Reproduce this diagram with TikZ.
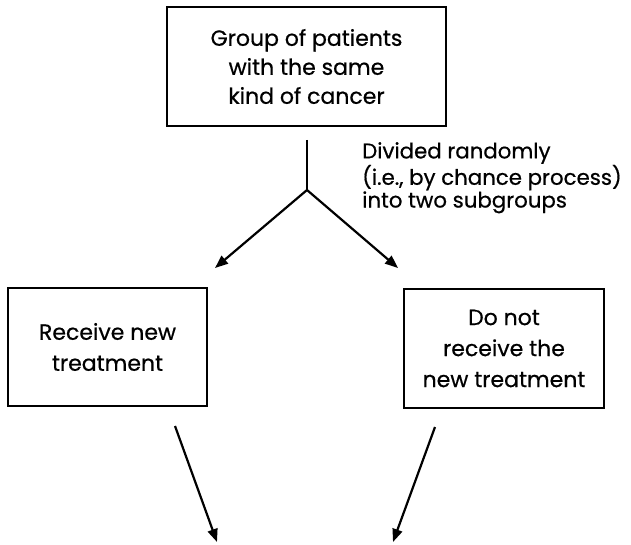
\documentclass[tikz,border=0pt]{standalone}
\usepackage{fontspec}
\setmainfont{Poppins}[FakeBold=0.6]
\usetikzlibrary{arrows.meta}
\begin{document}
\begin{tikzpicture}[x=1pt,y=-1pt,
  box/.style={draw,line width=2.2pt,minimum width=#1,align=center,inner sep=0pt},
  conn/.style={line width=2.2pt},
  arr/.style={line width=2.2pt,-{Triangle[length=13pt,width=10pt]}}]
\useasboundingbox (0,0) rectangle (631,545);
\node[box=279pt,minimum height=119pt,font=\fontsize{22}{29}\selectfont] (top) at (306.5,66.5) {Group of patients\\with the same\\kind of cancer};
\node[box=199pt,minimum height=118pt,font=\fontsize{22}{31}\selectfont] (left) at (107.5,347) {Receive new\\treatment};
\node[box=200pt,minimum height=119pt,font=\fontsize{22}{31}\selectfont] (right) at (504,348.5) {Do not\\receive the\\new treatment};
\node[anchor=north west,align=left,inner sep=0pt,font=\fontsize{21.3}{20.5}\selectfont] (lab) at (362,142) {Divided randomly\\(i.e., by chance process)\\into two subgroups};
\coordinate (s) at (307,140);
\coordinate (fork) at (307,190);
\coordinate (lt) at (215,268);
\coordinate (rt) at (398,268);
\coordinate (ls) at (175,426);
\coordinate (le) at (217,542);
\coordinate (rs) at (435,427);
\coordinate (re) at (393,542);
\draw[conn] (s) -- (fork);
\draw[arr] (fork) -- (lt);
\draw[arr] (fork) -- (rt);
\draw[arr] (ls) -- (le);
\draw[arr] (rs) -- (re);
\end{tikzpicture}
\end{document}
